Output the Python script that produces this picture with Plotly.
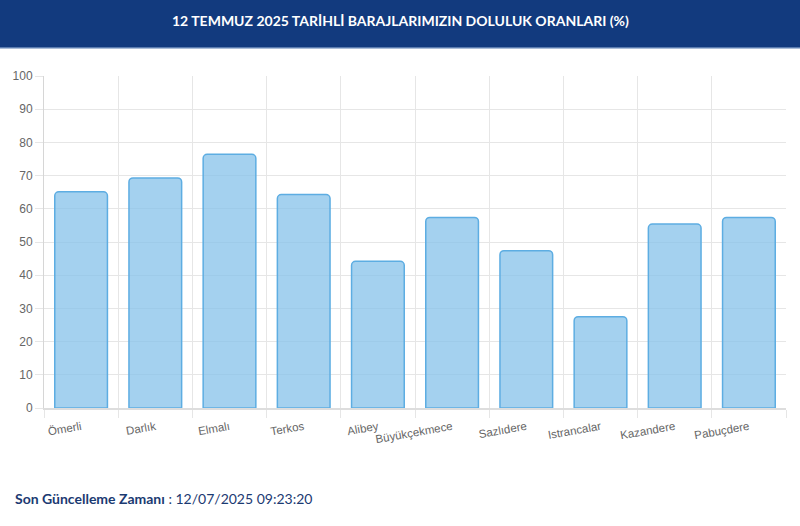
import plotly.graph_objects as go

dams = ["Ömerli", "Darlık", "Elmalı", "Terkos", "Alibey", "Büyükçekmece",
        "Sazlıdere", "Istrancalar", "Kazandere", "Pabuçdere"]
fill_rates = [65.1, 69.3, 76.4, 64.3, 44.2, 57.4, 47.4, 27.5, 55.4, 57.4]
y_ticks = [0, 10, 20, 30, 40, 50, 60, 70, 80, 90, 100]

title_text = "12 TEMMUZ 2025 TARİHLİ BARAJLARIMIZIN DOLULUK ORANLARI (%)"
update_label = "Son Güncelleme Zamanı"
update_time = "12/07/2025 09:23:20"

W, H = 800, 526
ml, mr, mt, mb = 44, 14, 76, 118
pw, ph = W - ml - mr, H - mt - mb

def px_x(x):
    return (x - ml) / pw

def px_y(y):
    return (H - mb - y) / ph

fig = go.Figure()
fig.add_trace(go.Bar(
    x=dams, y=fill_rates,
    marker=dict(color="rgba(133,193,233,0.75)",
                line=dict(color="#5DADE2", width=1.5)),
    hoverinfo="x+y",
))

fig.update_layout(
    width=W, height=H,
    margin=dict(l=ml, r=mr, t=mt, b=mb),
    paper_bgcolor="white", plot_bgcolor="white",
    bargap=0.29, barcornerradius=4,
    showlegend=False,
    font=dict(family="Liberation Sans, Arial, sans-serif", color="#666666", size=12),
    xaxis=dict(
        type="category", tickson="boundaries",
        showgrid=True, gridcolor="#E6E6E6", gridwidth=1,
        ticks="outside", ticklen=8, tickcolor="#E6E6E6",
        tickangle=-10, tickfont=dict(size=11.5, color="#666666"),
        ticklabelstandoff=6,
        showline=True, linecolor="#DDDDDD", linewidth=2,
        zeroline=False,
    ),
    yaxis=dict(
        range=[0, 100], tickvals=y_ticks,
        showgrid=True, gridcolor="#E6E6E6", gridwidth=1,
        ticks="outside", ticklen=8, tickcolor="#E6E6E6",
        tickfont=dict(size=12, color="#666666"),
        showline=True, linecolor="#D6D6D6", linewidth=1,
        zeroline=False,
    ),
    shapes=[
        dict(type="rect", xref="paper", yref="paper",
             x0=px_x(0), x1=px_x(W), y0=px_y(47), y1=px_y(0),
             fillcolor="#123A7E", line=dict(width=0), layer="above"),
        dict(type="rect", xref="paper", yref="paper",
             x0=px_x(0), x1=px_x(W), y0=px_y(48.5), y1=px_y(47),
             fillcolor="#5B7CB0", line=dict(width=0), layer="above"),
    ],
    annotations=[
        dict(text="<b>" + title_text + "</b>", xref="paper", yref="paper",
             x=px_x(W / 2), y=px_y(21), xanchor="center", yanchor="middle",
             showarrow=False,
             font=dict(family="Lato, sans-serif", size=14, color="white")),
        dict(text="<b>" + update_label + "</b> : " + update_time,
             xref="paper", yref="paper",
             x=px_x(13), y=px_y(498), xanchor="left", yanchor="middle",
             showarrow=False,
             font=dict(family="Lato, sans-serif", size=14, color="#1B3A72")),
    ],
)

fig.write_html("out.html",
               config={"displayModeBar": False},
               post_script="document.body.style.margin='0';document.body.style.overflow='hidden';")
